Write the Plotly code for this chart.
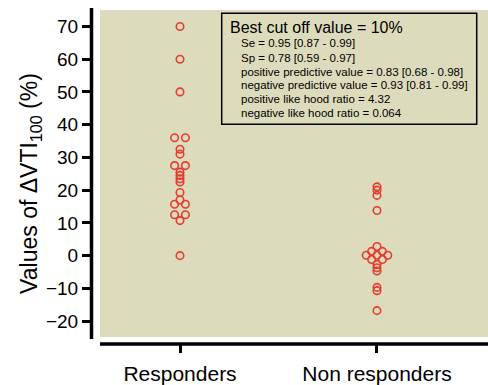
import plotly.graph_objects as go

# ---- data -------------------------------------------------------------
groups = ["Responders", "Non responders"]

responders = [70, 60, 50, 36, 36, 32.5, 31, 27.5, 27.5, 25.5, 24.5, 23.5,
              22.5, 19.3, 17, 15.7, 15.7, 12.5, 12.5, 10.7, 0]
non_responders = [21, 20, 18.4, 13.8, 2.8, 1.3, 1.3, 0.1, 0.1, 0.1,
                  -1.2, -1.2, -2.7, -3.7, -4.7, -9.7, -10.7, -16.8]

# horizontal swarm slot of each point (in half-marker steps)
responders_slot = [0, 0, 0, -1, 1, 0, 0, -1, 1, 0, 0, 0,
                   0, 0, 0, -1, 1, -1, 1, 0, 0]
non_responders_slot = [0, 0, 0, 0, 0, -1, 1, -2, 0, 2,
                       -1, 1, 0, 0, 0, 0, 0, 0]

y_ticks = [70, 60, 50, 40, 30, 20, 10, 0, -10, -20]

stats_title = "Best cut off value = 10%"
stats_lines = [
    "Se = 0.95 [0.87 - 0.99]",
    "Sp = 0.78 [0.59 - 0.97]",
    "positive predictive value = 0.83 [0.68 - 0.98]",
    "negative predictive value = 0.93 [0.81 - 0.99]",
    "positive like hood ratio = 4.32",
    "negative like hood ratio = 0.064",
]

# ---- layout geometry (pixels) ------------------------------------------
W, H = 488, 385
L, R, T, B = 92, 0, 8, 36
PW, PH = W - L - R, H - T - B
SLOT = 0.0274
FONT = "Liberation Sans, Arial, sans-serif"
RED = "#E63B2E"
BG = "#DCDCBD"


def px(x):
    return (x - L) / PW


def py(y):
    return (H - B - y) / PH


fig = go.Figure()
for i, (vals, slots) in enumerate([(responders, responders_slot),
                                   (non_responders, non_responders_slot)]):
    fig.add_trace(go.Scatter(
        x=[i + s * SLOT for s in slots],
        y=vals,
        mode="markers",
        marker=dict(symbol="circle-open", size=7.5, color=RED,
                    line=dict(width=1.6, color=RED)),
        showlegend=False,
        hoverinfo="y",
    ))

shapes = [
    # plot panel
    dict(type="rect", xref="paper", yref="paper", x0=px(100), x1=1,
         y0=py(342), y1=py(10), fillcolor=BG, line=dict(width=0),
         layer="below"),
    # y axis line
    dict(type="line", xref="paper", yref="paper", x0=px(91.5), x1=px(91.5),
         y0=py(344), y1=py(8), line=dict(color="black", width=3.5)),
    # x axis line
    dict(type="line", xref="paper", yref="paper", x0=px(100), x1=1,
         y0=py(349), y1=py(349), line=dict(color="black", width=3.5)),
    # statistics box
    dict(type="rect", xref="paper", yref="paper", x0=px(221.7), x1=px(476.7),
         y0=py(126), y1=py(13.3), fillcolor=BG,
         line=dict(color="black", width=1.5)),
]

annotations = [
    dict(text=stats_title, xref="paper", yref="paper", x=px(228), y=py(28),
         xanchor="left", yanchor="middle", showarrow=False,
         font=dict(family=FONT, size=16, color="black")),
    dict(text="Values of \u0394VTI<sub>100</sub> (%)", xref="paper",
         yref="paper", x=px(31), y=py(186.5), textangle=-90,
         xanchor="center", yanchor="middle", showarrow=False,
         font=dict(family=FONT, size=23, color="black")),
]
line_y = [44, 58.5, 72.5, 86.5, 100.5, 115]
for txt, yy in zip(stats_lines, line_y):
    annotations.append(dict(
        text=txt, xref="paper", yref="paper", x=px(239), y=py(yy),
        xanchor="left", yanchor="middle", showarrow=False,
        font=dict(family=FONT, size=11.5, color="black")))

fig.update_layout(
    width=W, height=H,
    margin=dict(l=L, r=R, t=T, b=B),
    paper_bgcolor="white", plot_bgcolor="rgba(0,0,0,0)",
    font=dict(family=FONT, color="black"),
    shapes=shapes, annotations=annotations,
    xaxis=dict(range=[-0.4467, 1.5635], tickvals=[0, 1], ticktext=groups,
               showgrid=False, zeroline=False, showline=False,
               ticks="outside", ticklen=8, tickwidth=3, tickcolor="black",
               tickfont=dict(family=FONT, size=21, color="black"),
               ticklabelstandoff=3, fixedrange=True),
    yaxis=dict(range=[-26.99, 75.63], tickvals=y_ticks,
               showgrid=False, zeroline=False, showline=False,
               ticks="outside", ticklen=9, tickwidth=3, tickcolor="black",
               tickfont=dict(family=FONT, size=19, color="black"),
               fixedrange=True),
)

fig.write_html("out.html")
